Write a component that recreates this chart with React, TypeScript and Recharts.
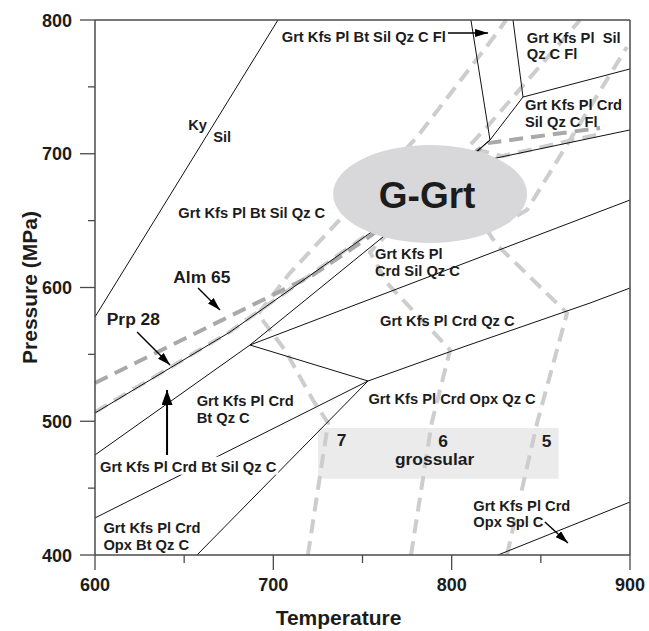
import React from 'react';
import { ComposedChart, Line, Scatter, XAxis, YAxis, ReferenceArea, Label } from 'recharts';

const W = 649;
const H = 631;
const LEFT = 95;
const RIGHT = 19;
const TOP = 20;
const BOTTOM = 76;
const PX_T = (W - LEFT - RIGHT) / 300;
const PX_P = (H - TOP - BOTTOM) / 400;

const tempTicks = [600, 650, 700, 750, 800, 850, 900];
const pressureTicks = [400, 450, 500, 550, 600, 650, 700, 750, 800];
const labelledTemps = [600, 700, 800, 900];
const labelledPressures = [400, 500, 600, 700, 800];

// solid reaction lines (T in C, P in MPa)
const kySil = [{ t: 600, p: 578 }, { t: 702.6, p: 800 }];
const upperBundle = [
  { t: 600, p: 506.2 }, { t: 642.1, p: 539.8 }, { t: 675.7, p: 566.7 },
  { t: 754.2, p: 640.7 }, { t: 814.8, p: 702.8 }, { t: 821.5, p: 710.3 },
];
const lowerBundle = [
  { t: 600, p: 474.8 }, { t: 686.9, p: 557 }, { t: 761.5, p: 637.8 },
  { t: 814.8, p: 702.1 }, { t: 821.5, p: 710.3 },
];
const crdSilLine = [{ t: 686.9, p: 557 }, { t: 900, p: 665.4 }];
const invariantLink = [{ t: 686.9, p: 557 }, { t: 753.1, p: 530.1 }];
const crdQzLine = [{ t: 753.1, p: 530.1 }, { t: 806.4, p: 555.5 }, { t: 877.6, p: 588.4 }, { t: 900, p: 599.6 }];
const btSilLine = [{ t: 600, p: 427.7 }, { t: 753.1, p: 530.1 }];
const opxBtLine = [{ t: 657.2, p: 400 }, { t: 753.1, p: 530.1 }];
const meltLineA = [{ t: 810.8, p: 800 }, { t: 821.5, p: 710.3 }];
const meltLineB = [{ t: 821.5, p: 710.3 }, { t: 840, p: 742.4 }];
const meltLineC = [{ t: 834.4, p: 800 }, { t: 840, p: 742.4 }];
const meltLineD = [{ t: 840, p: 742.4 }, { t: 900, p: 763.4 }];
const crdFlLine = [{ t: 810.3, p: 692.7 }, { t: 900, p: 717.8 }];
const splLine = [{ t: 826, p: 400 }, { t: 900, p: 439.6 }];

// isopleths (dashed)
const prp28 = [
  { t: 600, p: 506.9 }, { t: 642.1, p: 540.2 }, { t: 675.7, p: 567 }, { t: 754.2, p: 641 },
  { t: 814.8, p: 703 }, { t: 828.2, p: 698.2 }, { t: 883.2, p: 714.8 },
];
const alm65 = [
  { t: 600, p: 528.6 }, { t: 722.2, p: 609.3 }, { t: 755.3, p: 639.3 },
  { t: 814.8, p: 702.8 }, { t: 820.4, p: 708 }, { t: 883.2, p: 719.3 },
];
const grs7 = [
  { t: 719.4, p: 400 }, { t: 730.7, p: 498.7 }, { t: 722.2, p: 515.9 }, { t: 706.5, p: 553.3 },
  { t: 691.4, p: 580.2 }, { t: 709.3, p: 610.8 }, { t: 780.6, p: 712.5 }, { t: 825.4, p: 790.3 },
  { t: 830.5, p: 800 },
];
const grs6 = [
  { t: 777.2, p: 400 }, { t: 788.8, p: 498.7 }, { t: 799.1, p: 553.3 }, { t: 763.7, p: 603.4 },
  { t: 754.2, p: 626.5 }, { t: 819.8, p: 720 }, { t: 872, p: 800 },
];
const grs5 = [
  { t: 831, p: 400 }, { t: 847.9, p: 498.7 }, { t: 864.7, p: 580.9 }, { t: 825.4, p: 631.8 },
  { t: 820.4, p: 641.5 }, { t: 842.2, p: 657.9 }, { t: 898.3, p: 779.8 },
];

// arrows (tail, head)
const flArrow = [{ t: 797.9, p: 790.3 }, { t: 820.4, p: 790.3 }];
const almArrow = [{ t: 657.8, p: 599.6 }, { t: 670.1, p: 583.2 }];
const prpArrow = [{ t: 623.6, p: 566.7 }, { t: 642.1, p: 542 }];
const btArrow = [{ t: 640.4, p: 474.8 }, { t: 640.4, p: 523.4 }];
const splArrow = [{ t: 852.3, p: 424.7 }, { t: 865.2, p: 409 }];

const grossularBox = { t1: 725, t2: 860, p1: 457, p2: 495 };
const grtField = [{ t: 787.9, p: 669.9, dt: 54.4, dp: 36.6, name: 'G-Grt' }];

const fieldLabels = [
  { t: 652.3, p: 717.4, text: 'Ky' },
  { t: 666.3, p: 709.0, text: 'Sil' },
  { t: 704.7, p: 783.8, text: 'Grt Kfs Pl Bt Sil Qz C Fl' },
  { t: 842.1, p: 782.6, text: 'Grt Kfs Pl  Sil' },
  { t: 842.1, p: 770.6, text: 'Qz C Fl' },
  { t: 841.1, p: 732.7, text: 'Grt Kfs Pl Crd' },
  { t: 841.1, p: 720.2, text: 'Sil Qz C Fl' },
  { t: 646.7, p: 652.3, text: 'Grt Kfs Pl Bt Sil Qz C' },
  { t: 757, p: 621.1, text: 'Grt Kfs Pl' },
  { t: 757, p: 608.6, text: 'Crd Sil Qz C' },
  { t: 759.8, p: 571.2, text: 'Grt Kfs Pl Crd Qz C' },
  { t: 753.3, p: 512.9, text: 'Grt Kfs Pl Crd Opx Qz C' },
  { t: 657, p: 511.4, text: 'Grt Kfs Pl Crd' },
  { t: 657, p: 498.9, text: 'Bt Qz C' },
  { t: 602.8, p: 462.3, text: 'Grt Kfs Pl Crd Bt Sil Qz C', masked: true },
  { t: 604.7, p: 416.2, text: 'Grt Kfs Pl Crd' },
  { t: 604.7, p: 403.7, text: 'Opx Bt Qz C' },
  { t: 812.1, p: 433.1, text: 'Grt Kfs Pl Crd', masked: true },
  { t: 812.1, p: 420.7, text: 'Opx Spl C' },
];
const bigLabels = [
  { t: 643.9, p: 603.1, text: 'Alm 65' },
  { t: 606.6, p: 572, text: 'Prp 28' },
  { t: 735.5, p: 481.5, text: '7' },
  { t: 792.5, p: 481, text: '6' },
  { t: 768.2, p: 467.3, text: 'grossular' },
  { t: 850.5, p: 481, text: '5' },
];

const FONT = '"Liberation Sans", Arial, Helvetica, sans-serif';
const AXIS = '#4a4a4a';
const INK = '#1c1c1c';
const LIGHT_DASH = '#cdcdcd';
const DARK_DASH = '#a9a9a9';
const FIELD_SIZE = 14.7;

const tickText = { fontFamily: FONT, fontSize: 18, fontWeight: 700, fill: INK };

let measureCtx: CanvasRenderingContext2D | null = null;
function textWidth(text: string, size: number) {
  if (!measureCtx) measureCtx = document.createElement('canvas').getContext('2d');
  if (!measureCtx) return text.length * size * 0.5;
  measureCtx.font = `700 ${size}px ${FONT}`;
  return measureCtx.measureText(text).width;
}

function BottomTick({ x, y, payload }: any) {
  const major = labelledTemps.includes(payload.value);
  return (
    <g>
      <line x1={x} y1={y} x2={x} y2={y + (major ? 15 : 8)} stroke={AXIS} strokeWidth={1.3} />
      {major && (
        <text x={x} y={y + 36} textAnchor="middle" style={tickText}>
          {payload.value}
        </text>
      )}
    </g>
  );
}

function TopTick({ x, y, payload }: any) {
  const major = labelledTemps.includes(payload.value);
  return <line x1={x} y1={y} x2={x} y2={y - (major ? 15 : 7)} stroke={AXIS} strokeWidth={1.3} />;
}

function LeftTick({ x, y, payload }: any) {
  const major = labelledPressures.includes(payload.value);
  return (
    <g>
      <line x1={x} y1={y} x2={x - (major ? 15 : 7)} y2={y} stroke={AXIS} strokeWidth={1.3} />
      {major && (
        <text x={x - 23} y={y + 6.5} textAnchor="end" style={tickText}>
          {payload.value}
        </text>
      )}
    </g>
  );
}

function RightTick({ x, y, payload }: any) {
  const major = labelledPressures.includes(payload.value);
  return <line x1={x} y1={y} x2={x + (major ? 15 : 8)} y2={y} stroke={AXIS} strokeWidth={1.3} />;
}

function FieldLabel({ cx, cy, payload }: any) {
  return (
    <g>
      {payload.masked && (
        <rect x={cx - 2} y={cy - 15} width={textWidth(payload.text, FIELD_SIZE) + 4} height={18} fill="#fff" />
      )}
      <text
        x={cx}
        y={cy}
        style={{ fontFamily: FONT, fontSize: FIELD_SIZE, fontWeight: 700, fill: INK, whiteSpace: 'pre' }}
      >
        {payload.text}
      </text>
    </g>
  );
}

function BigLabel({ cx, cy, payload }: any) {
  return (
    <text x={cx} y={cy} style={{ fontFamily: FONT, fontSize: 17.4, fontWeight: 700, fill: INK }}>
      {payload.text}
    </text>
  );
}

function GarnetField({ cx, cy, payload }: any) {
  return (
    <g>
      <ellipse cx={cx} cy={cy} rx={payload.dt * PX_T} ry={payload.dp * PX_P} fill="#d8d8da" />
      <text x={cx - 3} y={cy + 14} textAnchor="middle" style={{ fontFamily: FONT, fontSize: 37, fontWeight: 700, fill: INK }}>
        {payload.name}
      </text>
    </g>
  );
}

const solid = { stroke: '#111', strokeWidth: 1, dot: false, activeDot: false, isAnimationActive: false, type: 'linear' as const };
const dashed = { strokeWidth: 4, strokeDasharray: '14 8', dot: false, activeDot: false, isAnimationActive: false, type: 'linear' as const };
const arrow = { stroke: '#000', strokeWidth: 1.4, dot: false, activeDot: false, isAnimationActive: false, type: 'linear' as const };

export default function App() {
  const solidLines = [kySil, upperBundle, lowerBundle, crdSilLine, invariantLink, crdQzLine, btSilLine, opxBtLine,
    meltLineA, meltLineB, meltLineC, meltLineD, crdFlLine, splLine];
  return (
    <div style={{ position: 'absolute', left: 0, top: 0, background: '#fff' }}>
      <ComposedChart width={W} height={H} margin={{ top: 0, right: 0, bottom: 0, left: 0 }}>
        <defs>
          <marker id="arrowHead" viewBox="0 0 13 8" refX="13" refY="4" markerWidth="13" markerHeight="8" markerUnits="userSpaceOnUse" orient="auto">
            <path d="M0,0 L13,4 L0,8 z" fill="#000" />
          </marker>
          <marker id="arrowBig" viewBox="0 0 15 11" refX="15" refY="5.5" markerWidth="15" markerHeight="11" markerUnits="userSpaceOnUse" orient="auto">
            <path d="M0,0 L15,5.5 L0,11 z" fill="#000" />
          </marker>
        </defs>
        <XAxis
          dataKey="t"
          type="number"
          domain={[600, 900]}
          ticks={tempTicks}
          interval={0}
          height={BOTTOM}
          tickSize={0}
          tickMargin={0}
          tickLine={false}
          tick={BottomTick}
          axisLine={{ stroke: AXIS, strokeWidth: 1.5 }}
        >
          <Label
            content={({ viewBox }: any) => (
              <text x={viewBox.x + viewBox.width / 2 - 24} y={viewBox.y + 70} textAnchor="middle"
                style={{ fontFamily: FONT, fontSize: 21, fontWeight: 700, fill: INK }}>
                Temperature
              </text>
            )}
          />
        </XAxis>
        <XAxis
          xAxisId="top"
          orientation="top"
          type="number"
          domain={[600, 900]}
          ticks={tempTicks}
          interval={0}
          height={TOP}
          tickSize={0}
          tickMargin={0}
          tickLine={false}
          tick={TopTick}
          axisLine={{ stroke: AXIS, strokeWidth: 1.5 }}
        />
        <YAxis
          dataKey="p"
          type="number"
          domain={[400, 800]}
          ticks={pressureTicks}
          interval={0}
          width={LEFT}
          tickSize={0}
          tickMargin={0}
          tickLine={false}
          tick={LeftTick}
          axisLine={{ stroke: AXIS, strokeWidth: 1.5 }}
        >
          <Label
            content={({ viewBox }: any) => {
              const x = 37;
              const y = viewBox.y + viewBox.height / 2;
              return (
                <text x={x} y={y} transform={`rotate(-90 ${x} ${y})`} textAnchor="middle"
                  style={{ fontFamily: FONT, fontSize: 21, fontWeight: 700, fill: INK }}>
                  Pressure (MPa)
                </text>
              );
            }}
          />
        </YAxis>
        <YAxis
          yAxisId="right"
          orientation="right"
          type="number"
          domain={[400, 800]}
          ticks={pressureTicks}
          interval={0}
          width={RIGHT}
          tickSize={0}
          tickMargin={0}
          tickLine={false}
          tick={RightTick}
          axisLine={{ stroke: AXIS, strokeWidth: 1.5 }}
        />

        <ReferenceArea
          x1={grossularBox.t1}
          x2={grossularBox.t2}
          y1={grossularBox.p1}
          y2={grossularBox.p2}
          fill="#ebebeb"
          fillOpacity={1}
          stroke="none"
        />

        <Line data={grs7} dataKey="p" stroke={LIGHT_DASH} {...dashed} />
        <Line data={grs6} dataKey="p" stroke={LIGHT_DASH} {...dashed} />
        <Line data={grs5} dataKey="p" stroke={LIGHT_DASH} {...dashed} />
        <Line data={prp28} dataKey="p" stroke={LIGHT_DASH} {...dashed} />
        <Line data={alm65} dataKey="p" stroke={DARK_DASH} {...dashed} />

        {solidLines.map((d, i) => (
          <Line key={i} data={d} dataKey="p" {...solid} />
        ))}

        <Line data={flArrow} dataKey="p" {...arrow} strokeWidth={1.6} markerEnd="url(#arrowHead)" />
        <Line data={almArrow} dataKey="p" {...arrow} markerEnd="url(#arrowHead)" />
        <Line data={prpArrow} dataKey="p" {...arrow} markerEnd="url(#arrowHead)" />
        <Line data={btArrow} dataKey="p" {...arrow} strokeWidth={2} markerEnd="url(#arrowBig)" />
        <Line data={splArrow} dataKey="p" {...arrow} markerEnd="url(#arrowHead)" />

        <Scatter data={grtField} shape={GarnetField} isAnimationActive={false} />
        <Scatter data={fieldLabels} shape={FieldLabel} isAnimationActive={false} />
        <Scatter data={bigLabels} shape={BigLabel} isAnimationActive={false} />
      </ComposedChart>
    </div>
  );
}
